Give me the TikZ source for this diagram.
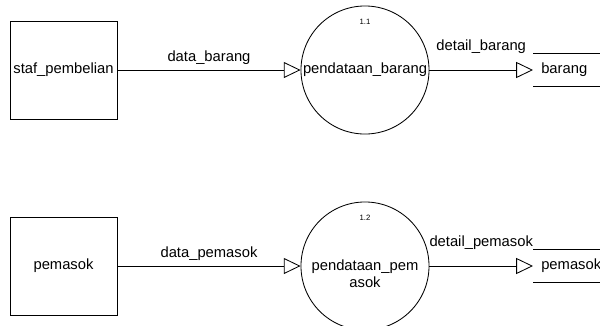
\documentclass[tikz,border=0pt]{standalone}
\usepackage{fontspec}
\setmainfont{Liberation Sans}
\usetikzlibrary{arrows.meta,positioning}
\tikzset{
  entitybox/.style={draw,line width=0.6pt,minimum width=2.675cm,minimum height=2.45cm,inner sep=1pt},
  procnode/.style={draw,circle,line width=0.6pt,minimum size=3.2cm,inner sep=0pt,align=center},
  storenode/.style={anchor=west,inner xsep=0.2cm,inner ysep=0pt,minimum height=0.825cm},
  flowline/.style={-{Triangle[open,length=0.42cm,width=0.4cm]},line width=0.6pt},
  numlabel/.style={font=\fontsize{5.5}{6}\selectfont,inner sep=0pt}
}

\begin{document}
\begin{tikzpicture}[x=0.025cm,y=-0.025cm,font=\fontsize{10.5}{12}\selectfont]
    \useasboundingbox (0,0) rectangle (600,325);

    \foreach \idx/\ypos/\src/\proc/\inflow/\outflow/\store in {
      1/70/{staf\_pembelian}/{pendataan\_barang}/{data\_barang}/{detail\_barang}/{barang},
      2/266/{pemasok}/{\rule{0pt}{19pt}pendataan\_pem\\asok}/{data\_pemasok}/{detail\_pemasok}/{pemasok}} {
      \node[entitybox] (src\idx) at (63.5,\ypos) {\src};
      \node[procnode] (proc\idx) at (365,\ypos) {\proc};
      \node[numlabel] (num\idx) at (365,\ypos-48) {1.\idx};
      \node[storenode] (store\idx) at (533,\ypos) {\store};
      \draw[line width=0.6pt] (store\idx.north west) -- ++(67,0);
      \draw[line width=0.6pt] (store\idx.south west) -- ++(67,0);

      \draw[flowline] (src\idx) -- node[above] {\inflow} (proc\idx);
      \draw[flowline] (proc\idx) -- node[above,yshift=8pt] {\outflow} (store\idx.west);
    }
  \end{tikzpicture}
\end{document}
